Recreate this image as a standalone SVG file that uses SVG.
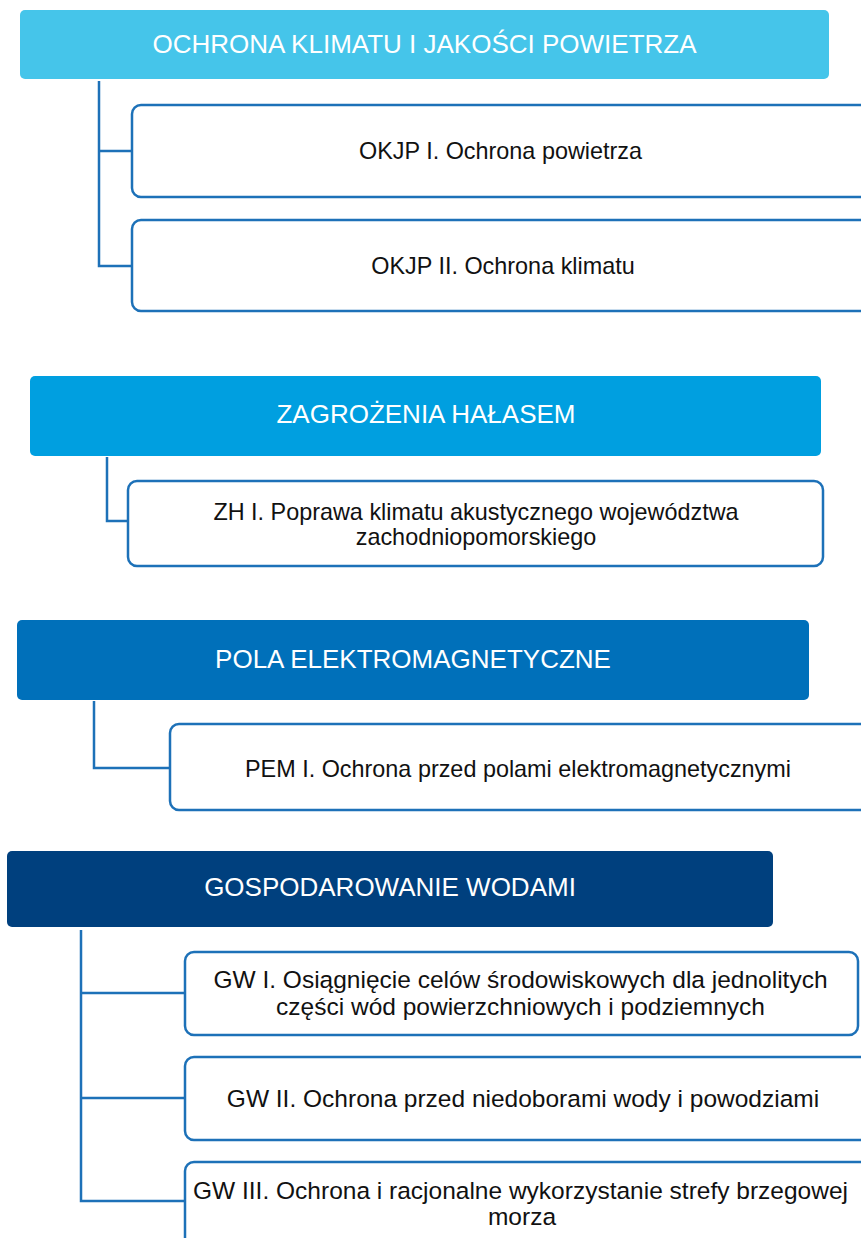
<svg xmlns="http://www.w3.org/2000/svg" width="861" height="1238" viewBox="0 0 861 1238">
<style>
.hdr{stroke:none}
.h-text{font-family:"Liberation Sans",Arial,sans-serif;font-size:26px;fill:#ffffff;text-anchor:middle}
.box{fill:#ffffff;stroke:#1d71b8;stroke-width:2.5}
.b-text{font-family:"Liberation Sans",Arial,sans-serif;font-size:23.4px;fill:#111111;text-anchor:middle}
.gw{font-size:24.5px}
.conn{fill:none;stroke:#1d71b8;stroke-width:2.5}
</style>
<rect width="861" height="1238" fill="#ffffff"/>
<g id="connectors">
<path class="conn" d="M99 81 V266 H132 M99 151 H132"/>
<path class="conn" d="M107 457 V521 H128"/>
<path class="conn" d="M94 701 V768 H170"/>
<path class="conn" d="M81 930 V1201 H185 M81 993 H185 M81 1098 H185"/>
</g>
<g id="h1"><rect class="hdr" x="20" y="10" width="809" height="69" rx="5" fill="#45c5ea"/><text class="h-text" x="424.5" y="53">OCHRONA KLIMATU I JAKOŚCI POWIETRZA</text></g>
<g id="okjp1"><rect class="box" x="132" y="105" width="740" height="92" rx="9"/><text class="b-text" x="500.5" y="159">OKJP I. Ochrona powietrza</text></g>
<g id="okjp2"><rect class="box" x="132" y="220" width="740" height="91" rx="9"/><text class="b-text" x="503" y="274">OKJP II. Ochrona klimatu</text></g>
<g id="h2"><rect class="hdr" x="30" y="376" width="791" height="80" rx="5" fill="#009fe0"/><text class="h-text" x="426" y="423">ZAGROŻENIA HAŁASEM</text></g>
<g id="zh1"><rect class="box" x="128" y="481" width="695" height="85" rx="9"/><text class="b-text" x="476" y="520">ZH I. Poprawa klimatu akustycznego województwa</text><text class="b-text" x="476" y="545">zachodniopomorskiego</text></g>
<g id="h3"><rect class="hdr" x="17" y="620" width="792" height="80" rx="5" fill="#0070ba"/><text class="h-text" x="413" y="668">POLA ELEKTROMAGNETYCZNE</text></g>
<g id="pem1"><rect class="box" x="170" y="724" width="700" height="86" rx="9"/><text class="b-text" x="518" y="777">PEM I. Ochrona przed polami elektromagnetycznymi</text></g>
<g id="h4"><rect class="hdr" x="7" y="851" width="766" height="76" rx="5" fill="#00407e"/><text class="h-text" x="390" y="896">GOSPODAROWANIE WODAMI</text></g>
<g id="gw1"><rect class="box" x="185" y="952" width="673" height="83" rx="9"/><text class="b-text gw" x="520.5" y="988">GW I. Osiągnięcie celów środowiskowych dla jednolitych</text><text class="b-text gw" x="520.5" y="1015">części wód powierzchniowych i podziemnych</text></g>
<g id="gw2"><rect class="box" x="185" y="1057" width="690" height="83" rx="9"/><text class="b-text gw" x="523" y="1107">GW II. Ochrona przed niedoborami wody i powodziami</text></g>
<g id="gw3"><rect class="box" x="185" y="1162" width="690" height="100" rx="9"/><text class="b-text gw" x="520.5" y="1199">GW III. Ochrona i racjonalne wykorzystanie strefy brzegowej</text><text class="b-text gw" x="522" y="1225">morza</text></g>
</svg>
